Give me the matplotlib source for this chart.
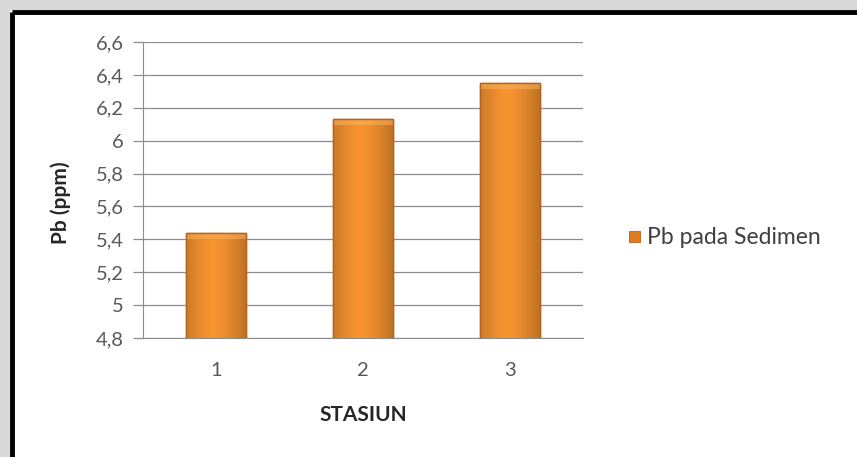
import numpy as np
import matplotlib
matplotlib.use("Agg")
import matplotlib.pyplot as plt
from matplotlib.patches import Rectangle
from matplotlib.ticker import FuncFormatter

# data Pb pada sedimen per stasiun
stasiun = ["1", "2", "3"]
pb_sedimen = [5.44, 6.13, 6.35]
y_ticks = [4.8, 5.0, 5.2, 5.4, 5.6, 5.8, 6.0, 6.2, 6.4, 6.6]

plt.rcParams['font.family'] = ['Lato', 'DejaVu Sans']

fig = plt.figure(figsize=(8.57, 4.57), dpi=100)
fig.patch.set_facecolor("white")

# bingkai abu-abu dan garis hitam di atas dan kiri
fig.patches.append(Rectangle((0, 1 - 10/457), 1, 10/457, transform=fig.transFigure,
                             facecolor="#d9d9d9", edgecolor="none", zorder=0))
fig.patches.append(Rectangle((0, 0), 10/857, 1, transform=fig.transFigure,
                             facecolor="#d9d9d9", edgecolor="none", zorder=0))
fig.add_artist(plt.Line2D([12/857, 1], [1 - 12/457, 1 - 12/457], transform=fig.transFigure,
                          color="black", lw=3.5, solid_capstyle="butt"))
fig.add_artist(plt.Line2D([12/857, 12/857], [0, 1 - 12/457], transform=fig.transFigure,
                          color="black", lw=3.5, solid_capstyle="butt"))

ax = fig.add_axes([143/857, 119/457, 440/857, 296/457])
x = np.arange(len(stasiun))
bars = ax.bar(x, pb_sedimen, width=0.41, bottom=0, color="#f7962f",
              edgecolor="#b8631c", linewidth=1.0, zorder=3)

# gradasi warna pada batang
grad = np.linspace(0, 1, 64)
shade = 1 - 0.3 * np.abs(grad - 0.45) ** 1.5 * 2
img = np.zeros((1, 64, 3))
base = np.array([0.97, 0.58, 0.19])
img[0] = base[None, :] * shade[:, None]
for b in bars:
    x0, y0 = b.get_x(), b.get_y()
    w, h = b.get_width(), b.get_height()
    im = ax.imshow(img, extent=[x0, x0 + w, 4.8, y0 + h], aspect="auto",
                   zorder=3.5, interpolation="bicubic")
    im.set_clip_path(b)
    # sisi atas lebih terang
    ax.add_patch(Rectangle((x0, y0 + h - 0.035), w, 0.035, facecolor="#fbb25e",
                           edgecolor="none", alpha=0.55, zorder=3.6, clip_path=b))
    ax.add_patch(Rectangle((x0, y0), w, h, facecolor="none", edgecolor="#b8631c",
                           lw=1.0, zorder=3.7))

ax.set_ylim(4.8, 6.6)
ax.set_xlim(-0.5, 2.5)
ax.set_yticks(y_ticks)
ax.yaxis.set_major_formatter(FuncFormatter(lambda v, p: ("%g" % round(v, 1)).replace(".", ",")))
ax.set_xticks(x)
ax.set_xticklabels(stasiun)
ax.grid(axis="y", color="#8c8c8c", lw=0.9, zorder=0)
ax.set_axisbelow(True)
for s in ["top", "right"]:
    ax.spines[s].set_visible(False)
ax.spines["left"].set_color("#8c8c8c")
ax.spines["bottom"].set_color("#8c8c8c")
ax.tick_params(axis="y", colors="#8c8c8c", labelcolor="#595959", labelsize=14.5,
               length=7, width=0.9, pad=7)
ax.tick_params(axis="x", length=0, labelcolor="#595959", labelsize=14.5, pad=17)

ax.set_ylabel("Pb (ppm)", fontsize=15, fontweight="bold", color="#262626")
ax.yaxis.set_label_coords(-0.163, 0.456)
ax.set_xlabel("STASIUN", fontsize=15, fontweight="bold", color="#262626")
ax.xaxis.set_label_coords(0.5, -0.226)

# legenda
fig.patches.append(Rectangle((629/857, 1 - 242/457), 11/857, 11/457, transform=fig.transFigure,
                             facecolor="#e07b20", edgecolor="#b8631c", lw=0.6))
fig.text(647/857, 1 - 237/457, "Pb pada Sedimen", fontsize=16.5, color="#404040",
         va="center", ha="left")

fig.savefig("out.png", dpi=100)
